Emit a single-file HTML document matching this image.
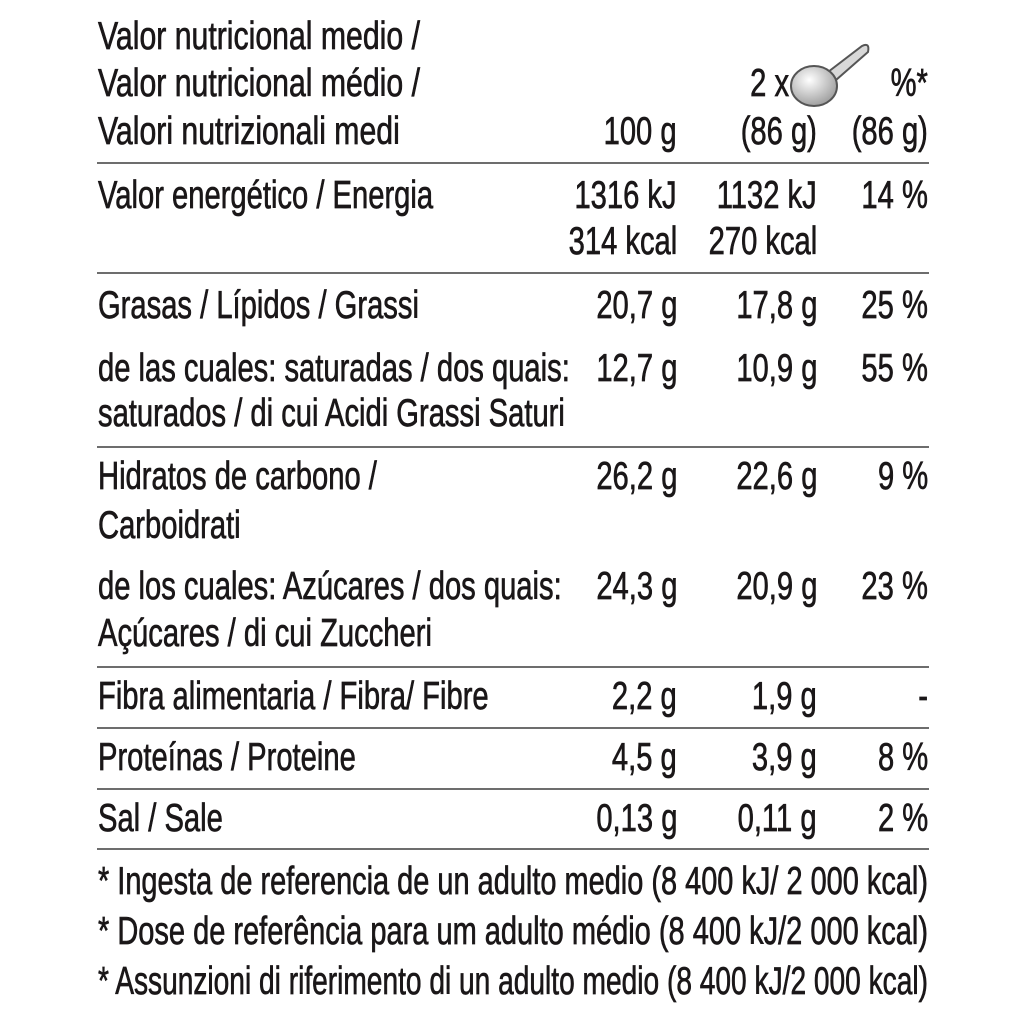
<!DOCTYPE html>
<html><head><meta charset="utf-8"><style>
html,body{margin:0;padding:0;background:#fff;}
#wrap{position:relative;width:1024px;height:1024px;overflow:hidden;font-family:"Liberation Sans",sans-serif;color:#1a1718;}
.t{position:absolute;font-size:39px;line-height:48px;white-space:nowrap;-webkit-text-stroke:0.7px #1a1718;}
.l{transform-origin:left center;}
.r{transform-origin:right center;}
.rule{position:absolute;left:97px;width:832px;height:2px;background:#6d6d6d;}
</style></head><body>
<div id="wrap">
<svg style="position:absolute;left:0;top:0" width="1024" height="1024">
<defs><radialGradient id="g" cx="0.4" cy="0.35" r="0.7"><stop offset="0" stop-color="#fff"/><stop offset="1" stop-color="#9a9a9a"/></radialGradient></defs>
<path d="M828 72 L862 46 Q870 42 868 52 L836 80 Z" fill="#d8d8d8" stroke="#555" stroke-width="2"/>
<ellipse cx="814" cy="86" rx="23" ry="20" fill="url(#g)" stroke="#555" stroke-width="2"/>
</svg>
<div id="rules"></div>
<div id="texts"></div>
</div>
<script>
const rulesY=[163,273,447,667,728,789,849];
const leftTexts=[
["Valor nutricional medio /",38],["Valor nutricional médio /",85],["Valori nutrizionali medi",133],
["Valor energético / Energia",197],["Grasas / Lípidos / Grassi",307],
["de las cuales: saturadas / dos quais:",370],["saturados /  di cui Acidi Grassi Saturi",415],
["Hidratos de carbono /",478],["Carboidrati",527],["de los cuales: Azúcares / dos quais:",588],
["Açúcares / di cui Zuccheri",635],["Fibra alimentaria / Fibra/ Fibre",698],
["Proteínas / Proteine",759],["Sal / Sale",820]];
const footnotes=[
["* Ingesta de referencia de un adulto medio (8 400 kJ/ 2 000 kcal)",883],
["* Dose de referência para um adulto médio (8 400 kJ/2 000 kcal)",933],
["* Assunzioni di riferimento di un adulto medio (8 400 kJ/2 000 kcal)",983]];
const col100=[["100 g",133],["1316 kJ",197],["314 kcal",243],["20,7 g",307],["12,7 g",370],["26,2 g",478],["24,3 g",588],["2,2 g",698],["4,5 g",759],["0,13 g",820]];
const colPortion=[["(86 g)",133],["1132 kJ",197],["270 kcal",243],["17,8 g",307],["10,9 g",370],["22,6 g",478],["20,9 g",588],["1,9 g",698],["3,9 g",759],["0,11 g",820]];
const colSpoon=[["2 x",85]];
const colPct=[["%*",85],["(86 g)",133],["14 %",197],["25 %",307],["55 %",370],["9 %",478],["23 %",588],["-",698],["8 %",759],["2 %",820]];
const R=document.getElementById('rules'),T=document.getElementById('texts');
rulesY.forEach(y=>{const d=document.createElement('div');d.className='rule';d.style.top=(y-1)+'px';


R.appendChild(d);});
function add(txt,cy,align,name){const d=document.createElement('div');d.className='t '+(align==='l'?'l':'r');d.textContent=txt;d.style.top=(cy-25)+'px';


T.appendChild(d);return d;}
const probe=add("Valor nutricional medio /",0,'l','probe');const w=probe.getBoundingClientRect().width;probe.remove();
const s0=322/w, s=s0*0.965;
leftTexts.forEach(([t,y],i)=>{const d=add(t,y,'l','nutrient-label');d.style.left='98px';d.style.transform='scaleX('+(i<3?s0:s)+')';});
footnotes.forEach(([t,y])=>{const d=add(t,y,'l','footnote');d.style.left='98px';const ww=d.getBoundingClientRect().width;d.style.transform='scaleX('+(830/ww)+')';});
function right(arr,xr,name){arr.forEach(([t,y])=>{const d=add(t,y,'r',name);const ww=d.getBoundingClientRect().width;d.style.left=(xr-ww)+'px';d.style.transform='scaleX('+s+')';});}
right(col100,677,'per-100g-value');right(colPortion,817,'per-portion-value');right(colSpoon,789,'portion-count');right(colPct,928,'percent-ri-value');
</script>
</body></html>
